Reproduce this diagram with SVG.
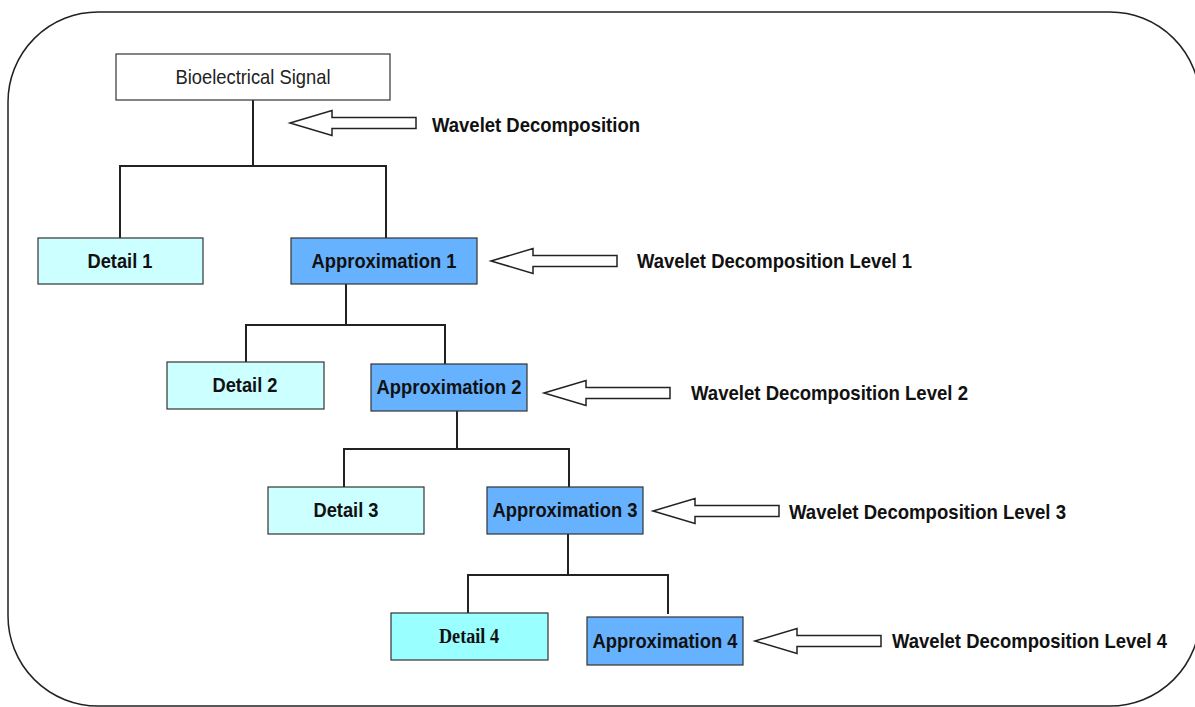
<svg xmlns="http://www.w3.org/2000/svg" xmlns:xlink="http://www.w3.org/1999/xlink" width="1195" height="707" viewBox="0 0 1195 707">
  <style>
    .box { stroke: #333; stroke-width: 1.2; }
    .sig { fill: #ffffff; }
    .det { fill: #ccffff; }
    .det4 { fill: #99ffff; }
    .apx { fill: #66b2ff; }
    .lbl { font-family: "Liberation Sans", Arial, sans-serif; font-size: 21px; font-weight: bold; fill: #111; }
    .lbl-n { font-family: "Liberation Sans", Arial, sans-serif; font-size: 21px; fill: #222; }
    .lbl-serif { font-family: "Liberation Serif", "Times New Roman", serif; font-size: 20px; font-weight: bold; fill: #111; }
    .link { fill: none; stroke: #222; stroke-width: 2; }
    .hollow { fill: #ffffff; stroke: #222; stroke-width: 1.5; stroke-linejoin: miter; }
  </style>
  <defs>
    <!-- hollow block arrow pointing left, tip at origin -->
    <path id="blockArrow" class="hollow" d="M0,0 L42,-12.5 L42,-5.5 L126,-5.5 L126,5.5 L42,5.5 L42,12.5 Z"/>
  </defs>

  <!-- outer frame -->
  <rect x="8" y="12" width="1192" height="694" rx="90" ry="90" fill="#ffffff" stroke="#222" stroke-width="1.5"/>

  <!-- connectors -->
  <g id="connectors">
    <path class="link" d="M253,100 V166 M120,238 V166 H386 V238"/>
    <path class="link" d="M346,284 V325 M246,362 V325 H445 V364"/>
    <path class="link" d="M457,411 V449 M344,487 V449 H569 V487"/>
    <path class="link" d="M568,534 V575 M468,613 V575 H668 V614"/>
  </g>

  <!-- level pointers -->
  <g id="pointers">
    <use xlink:href="#blockArrow" x="290" y="123"/>
    <use xlink:href="#blockArrow" x="491" y="261"/>
    <use xlink:href="#blockArrow" x="544" y="393"/>
    <use xlink:href="#blockArrow" x="653" y="511"/>
    <use xlink:href="#blockArrow" x="755" y="641"/>
  </g>

  <g id="signal">
    <rect class="box sig" x="116" y="54" width="274" height="46"/>
    <text class="lbl-n" x="253" y="84" text-anchor="middle" textLength="155" lengthAdjust="spacingAndGlyphs">Bioelectrical Signal</text>
  </g>

  <g id="detail1">
    <rect class="box det" x="38" y="238" width="165" height="46"/>
    <text class="lbl" x="120" y="268" text-anchor="middle" textLength="65" lengthAdjust="spacingAndGlyphs">Detail 1</text>
  </g>
  <g id="approx1">
    <rect class="box apx" x="291" y="238" width="186" height="46"/>
    <text class="lbl" x="384" y="268" text-anchor="middle" textLength="145" lengthAdjust="spacingAndGlyphs">Approximation 1</text>
  </g>

  <g id="detail2">
    <rect class="box det" x="167" y="362" width="157" height="47"/>
    <text class="lbl" x="245" y="392" text-anchor="middle" textLength="65" lengthAdjust="spacingAndGlyphs">Detail 2</text>
  </g>
  <g id="approx2">
    <rect class="box apx" x="371" y="364" width="156" height="47"/>
    <text class="lbl" x="449" y="394" text-anchor="middle" textLength="145" lengthAdjust="spacingAndGlyphs">Approximation 2</text>
  </g>

  <g id="detail3">
    <rect class="box det" x="268" y="487" width="156" height="47"/>
    <text class="lbl" x="346" y="517" text-anchor="middle" textLength="65" lengthAdjust="spacingAndGlyphs">Detail 3</text>
  </g>
  <g id="approx3">
    <rect class="box apx" x="487" y="487" width="156" height="47"/>
    <text class="lbl" x="565" y="517" text-anchor="middle" textLength="145" lengthAdjust="spacingAndGlyphs">Approximation 3</text>
  </g>

  <g id="detail4">
    <rect class="box det4" x="391" y="613" width="157" height="47"/>
    <text class="lbl-serif" x="469" y="643" text-anchor="middle" textLength="60" lengthAdjust="spacingAndGlyphs">Detail 4</text>
  </g>
  <g id="approx4">
    <rect class="box apx" x="587" y="617" width="156" height="48"/>
    <text class="lbl" x="665" y="648" text-anchor="middle" textLength="145" lengthAdjust="spacingAndGlyphs">Approximation 4</text>
  </g>

  <g id="level-labels">
    <text class="lbl" x="432" y="132" textLength="208" lengthAdjust="spacingAndGlyphs">Wavelet Decomposition</text>
    <text class="lbl" x="637" y="268" textLength="275" lengthAdjust="spacingAndGlyphs">Wavelet Decomposition Level 1</text>
    <text class="lbl" x="691" y="400" textLength="277" lengthAdjust="spacingAndGlyphs">Wavelet Decomposition Level 2</text>
    <text class="lbl" x="789" y="519" textLength="277" lengthAdjust="spacingAndGlyphs">Wavelet Decomposition Level 3</text>
    <text class="lbl" x="892" y="648" textLength="275" lengthAdjust="spacingAndGlyphs">Wavelet Decomposition Level 4</text>
  </g>
</svg>
